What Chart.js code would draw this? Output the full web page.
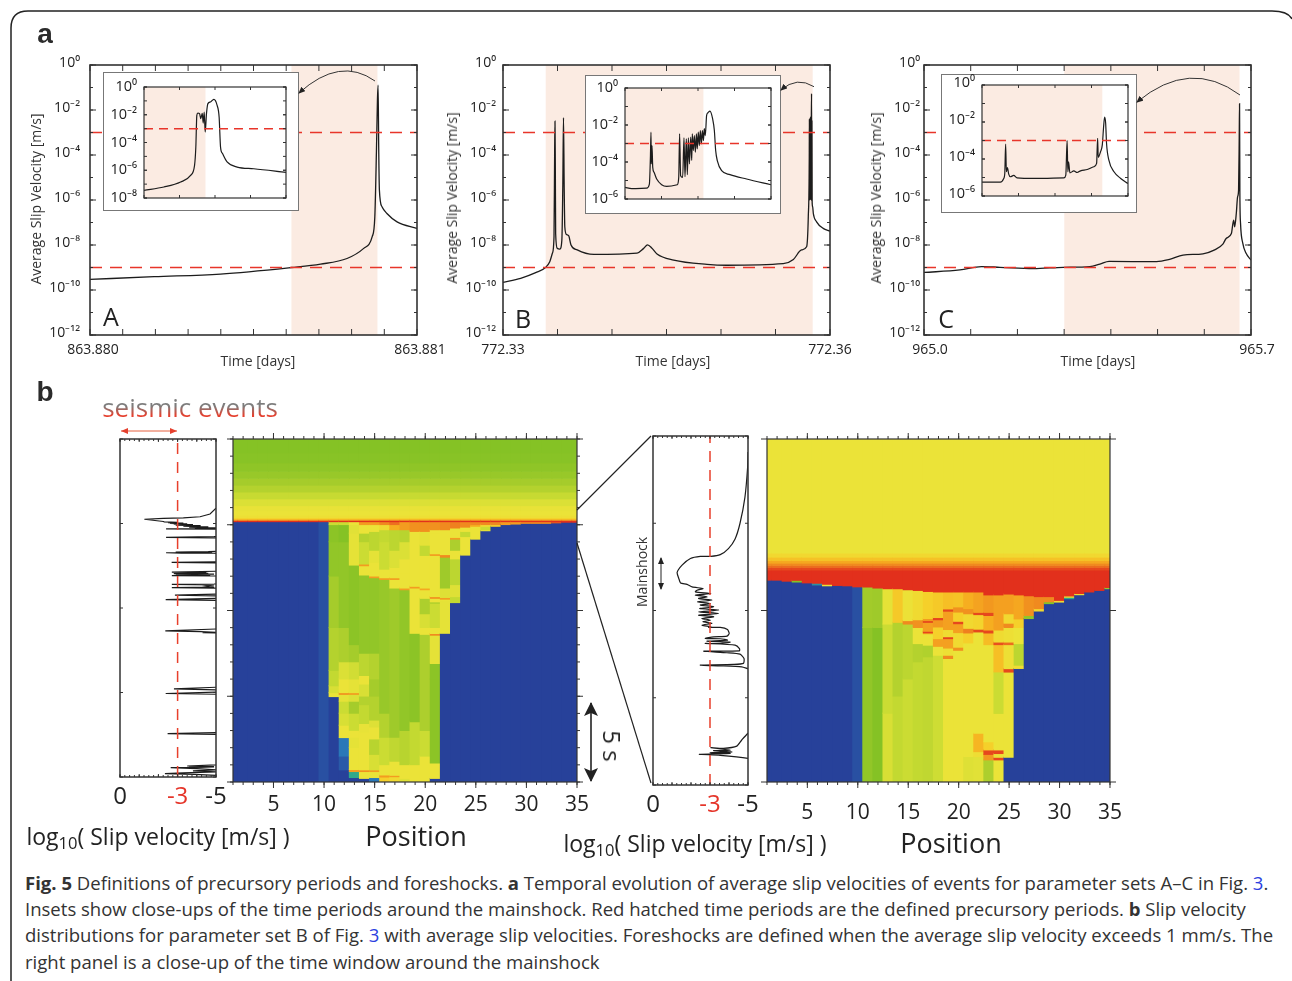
<!DOCTYPE html>
<html lang="en">
<head>
<meta charset="UTF-8">
<title>Fig. 5</title>
<script src="https://cdn.jsdelivr.net/npm/chart.js"></script>
<style>
  html, body { margin: 0; padding: 0; background: #fff; }
  body { width: 1292px; height: 981px; position: relative; overflow: hidden; font-family: "Open Sans", sans-serif; color: #2b2b2b; }
  canvas { position: absolute; }
  .txt { position: absolute; white-space: nowrap; transform: translate(-50%, -50%); line-height: 1; }
  .inset { position: absolute; background: #fff; border: 1.5px solid #777; box-sizing: border-box; }
  .cap { position: absolute; left: 25px; white-space: nowrap; font-size: 18.55px; line-height: 1; color: #333; }
  .cap a { color: #2c3fe0; }
  sub { font-size: 0.72em; vertical-align: -0.3em; line-height: 0; }
  .grad { background: linear-gradient(#7d7d7d 48%, #e5402e 70%); -webkit-background-clip: text; background-clip: text; color: transparent; padding: 3px 0; }
  svg { position: absolute; left: 0; top: 0; }
</style>
</head>
<body>
<script>
// ---- panel a, values are log10(slip velocity), time is % of the window shown
const threshHigh = 1e-3, threshLow = 1e-9;

const xLabelsA = ['863.880', '863.881'];
const timeA = [0,19.6,39.9,61.6,70.5,78.6,83.7,86.3,87.1,87.6,87.9,88.1,88.3,88.5,89.3,90.8,93.9,100];
const logVelA = [-9.53,-9.41,-9.29,-9,-8.85,-8.6,-8.15,-7.63,-6.75,-3.8,-1.57,-0.9,-3.8,-5.56,-6.3,-6.6,-6.97,-7.26];
const bandA = [61.6, 87.9];

const xLabelsB = ['772.33', '772.36'];
const timeB = [0,5.4,10,13,14.3,15.1,15.6,15.8,15.9,16,16.1,16.6,17.4,18,18.3,18.5,18.7,18.9,19.4,20.1,20.8,22.7,27.8,41,43,44.2,45.6,47.1,52.2,62.4,68.4,85.7,88.8,91.3,92.85,93.36,93.66,93.7,93.76,93.82,93.88,93.94,94,94.06,94.12,94.18,94.24,94.3,94.36,94.42,94.48,94.54,94.7,94.9,95.9,97.9,100];
const logVelB = [-9.66,-9.48,-9.23,-9,-8.74,-8.37,-7.63,-3.79,-2.5,-4.53,-7.49,-8.15,-8.18,-7.78,-5.27,-2.34,-5.27,-7.19,-7.53,-7.59,-8,-8.22,-8.42,-8.36,-8.15,-7.99,-8.15,-8.4,-8.67,-8.86,-8.9,-8.83,-8.64,-8.22,-8.08,-6.75,-4.08,-2.4,-6,-2.4,-6,-2.35,-5.9,-2.3,-5.9,-2.3,-6,-2.3,-1.27,-5.5,-2.5,-6.1,-6.3,-6.6,-6.97,-7.26,-7.38];
const bandB = [13.06, 94.7];

const xLabelsC = ['965.0', '965.7'];
const timeC = [0,11,17.6,23.2,33.4,42.6,50.7,53.8,56.6,71.1,75.1,79.2,85.3,88.9,91.4,92.4,94,94.7,95,95.5,95.9,96.2,96.4,96.5,96.6,96.8,97.5,98.5,100];
const logVelC = [-9.22,-9.11,-8.96,-8.99,-9.05,-8.99,-8.96,-8.85,-8.73,-8.74,-8.64,-8.45,-8.39,-8.22,-7.96,-7.71,-7.49,-6.89,-7.19,-6.6,-5.86,-5.56,-3.2,-1.72,-5.71,-7.04,-7.93,-8.37,-8.67];
const bandC = [42.9, 96.5];

// insets
const insetTimeA = [0,14,25.8,32.8,35.6,36.5,37.2,37.9,39.1,40,41,41.7,42.4,43.1,44,45,46.8,49.2,51.5,52.9,53.9,55.3,58.5,65.6,77.3,100];
const insetVelA = [-7.45,-7.21,-6.85,-6.37,-5.65,-4.33,-2.04,-1.875,-1.92,-2.28,-1.9,-2.6,-1.8,-3.25,-1.92,-1.2,-1.08,-0.89,-1.32,-2.16,-4.33,-4.8,-5.4,-5.77,-5.89,-6.15];
const insetBandA = [0, 43.3];

const insetTimeB = [0,4.6,14.8,16.7,17.4,17.8,18,18.5,19,19.9,21.7,25.1,28.5,35.8,36.8,37.4,38.1,39.5,40.4,41.1,42,42.7,43.4,44.1,45,45.7,46.1,46.8,47.5,48.2,48.9,49.5,50.2,50.9,51.6,52.3,53,53.7,54.3,55,55.9,56.8,58.2,60,61.2,62.1,63.2,66.2,71.9,83.3,100];
const insetVelB = [-5.37,-5.44,-5.41,-5.19,-3.74,-2.39,-4.1,-3.11,-4.29,-4.56,-4.92,-5.23,-5.32,-5.23,-4.83,-2.48,-4.74,-4.83,-2.69,-4.79,-2.75,-4.68,-2.69,-4.1,-2.66,-3.92,-2.48,-3.38,-2.57,-3.47,-2.48,-3.29,-2.39,-3.11,-2.3,-3.02,-2.3,-2.84,-2.2,-2.57,-1.48,-1.34,-1.25,-1.66,-2.3,-3.38,-3.92,-4.47,-4.68,-4.92,-5.23];
const insetBandB = [0, 53.7];

const insetTimeC = [0,12.6,14.9,15.6,16.2,16.7,17.4,18.3,19.4,21.7,24,35.5,56.1,57.4,58.3,58.8,59.3,60.2,62.9,65.2,67.5,72.1,76.6,78.5,79.2,79.6,81.2,82.4,83.3,84,84.7,85.3,86.9,90.4,95,100];
const insetVelC = [-5.25,-5.25,-5.05,-4.78,-3.19,-4.69,-4.46,-4.82,-4.96,-4.89,-5.02,-5.05,-5.02,-4.87,-3.01,-4.69,-4.15,-4.75,-4.64,-4.73,-4.64,-4.57,-4.42,-4.24,-2.88,-3.91,-3.6,-3.24,-2.25,-1.74,-2.07,-3.15,-4.06,-4.69,-5.05,-5.33];
const insetBandC = [0, 82.4];

// ---- panel b, average slip velocity traces (t in s, log10 v)
const leftTraceT = [15.9,15.56,15.4,15.33,15.3,15.25,15.12,15.1,15.07,15.05,15.02,15,14.98,14.96,14.93,14.9,14.87,14.84,14.8,14.78,14.74,14.72,14.7,14.68,14.66,14.6,14.3,14.22,14.18,14.15,14.1,13.4,13.33,13.31,13.29,13.27,13.25,13.24,13.2,12.75,12.7,12.66,12.2,12.12,12.09,12.07,12.05,12.03,12,11.98,11.95,11.92,11.88,11.55,11.42,11.4,11.36,11.3,11.24,11.2,11.17,10.85,10.76,10.7,10.6,10.5,10.44,8.8,8.65,8.6,8.56,8.54,8.5,5.35,5.22,5.16,5.1,5.05,4.94,4.88,2.65,2.57,2.5,0.9,0.72,0.65,0.62,0.6,0.58,0.56,0.5,0.42,0.36,0.3,0.24,0.2,0.16,0.1,0.05];
const leftTraceV = [-5,-4.69,-4.17,-3.3,-2.26,-1.27,-2.26,-2.3,-3,-2.5,-3.3,-2.6,-3.5,-2.8,-3.8,-2.9,-4.2,-3.3,-4.6,-3.6,-5,-3.9,-5.2,-2.4,-5.5,-6,-6,-4.9,-2.4,-4.8,-6,-6,-4.6,-2.9,-4.8,-2.4,-3.2,-4.9,-6,-6,-2.69,-6,-6,-2.7,-4.5,-2.8,-4.6,-2.8,-4.9,-2.9,-4.7,-2.7,-6,-6,-4.9,-2.7,-4.9,-4.5,-4.9,-2.7,-6,-6,-2.86,-6,-6,-2.38,-6,-6,-2.36,-4.2,-5,-4.3,-6,-6,-2.81,-5,-6,-6,-2.38,-6,-6,-2.48,-6,-6,-5,-3.5,-4.9,-3.6,-4.9,-2.64,-4,-5,-3.8,-5,-3.3,-2.34,-3.9,-5,-6];

const rightTraceT = [1.908,1.82,1.65,1.5,1.41,1.355,1.32,1.31,1.31,1.298,1.26,1.218,1.183,1.158,1.15,1.135,1.126,1.116,1.107,1.097,1.088,1.078,1.069,1.059,1.05,1.04,1.031,1.021,1.011,1.002,0.992,0.983,0.973,0.964,0.954,0.945,0.935,0.926,0.916,0.906,0.903,0.903,0.891,0.868,0.853,0.849,0.84,0.838,0.83,0.824,0.819,0.811,0.811,0.802,0.782,0.769,0.767,0.758,0.75,0.725,0.697,0.691,0.687,0.683,0.677,0.666,0.658,0.31,0.296,0.258,0.223,0.21,0.214,0.2,0.197,0.189,0.185,0.181,0.176,0.17,0.153,0.14];
const rightTraceV = [-5,-4.98,-4.84,-4.58,-4.32,-3.97,-3.54,-3.05,-2.49,-1.97,-1.53,-1.27,-1.36,-1.45,-1.79,-2.06,-2.63,-2.32,-2.23,-3.05,-2.23,-2.84,-2.4,-3.1,-2.35,-3.01,-2.49,-3.19,-2.46,-3.45,-2.4,-3.45,-2.4,-3.19,-2.58,-3.01,-2.63,-3.1,-2.58,-3.05,-2.93,-3.54,-3.92,-4.01,-3.89,-3.19,-2.75,-3.54,-3.92,-2.84,-4.06,-3.54,-2.75,-4.32,-4.55,-4.55,-2.67,-3.89,-4.58,-4.79,-4.76,-4.23,-2.49,-3.54,-4.67,-5,-5.28,-5.3,-5,-4.67,-4.41,-3.71,-3.05,-4.06,-3.19,-4.15,-3.01,-4.06,-2.44,-3.54,-5,-5.3];

// ---- heat maps: [position, t0, v0, t1, v1, ...], each run lasts until the next start
const leftRuns = [
  [1,0,-13],[2,0,-13],[3,0,-13],[4,0,-13],[5,0,-13],[6,0,-13],[7,0,-13],[8,0,-13],[9,0,-13],[10,0,-12.4],
  [11,0,-13,4.97,-6,5.2,-6.6,5.6,-7.2,6.5,-7.6,9,-8,12,-8.6,14,-8.8,15,-7],
  [12,0,-13,0.7,-12,1.5,-11.5,2.58,-6,3.3,-6.6,4,-7,4.7,-6.2,5.1,-3.2,5.2,-6,6,-6.5,7,-7.8,9,-8.6,14,-9,15,-7],
  [13,0,-13,0.25,-10.5,0.6,-3.5,0.72,-6,2,-6.2,2.6,-6,3,-7,4,-8,4.7,-6.5,5.1,-3.5,5.2,-6.2,6,-6.8,7,-8,8,-8.8,12.64,-6.2,14.5,-6.3,15,-6],
  [14,0,-13,0.2,-6,0.6,-3.2,0.7,-6,2.9,-6.1,3.4,-7.2,4.5,-7.6,5,-6.6,5.7,-6,6.2,-7.4,7.5,-8.6,12.06,-6,12.6,-3.5,12.7,-7,14,-7.6,14.5,-6,15,-3.5],
  [15,0,-11.5,0.25,-6,0.6,-3.5,0.7,-6.6,1.6,-7.5,2.5,-6,3.2,-6.4,3.6,-7.6,5,-8,6,-7.6,7.5,-8.6,11.9,-3.5,12,-6,12.8,-6.2,13.5,-7.4,14.6,-6,15,-3.5],
  [16,0,-5,0.28,-3.5,0.4,-6,1,-7,2.6,-7.6,4,-8.4,11.8,-3.5,11.9,-6,12.4,-7,14,-7.2,14.7,-5.6,15,-3],
  [17,0,-5.5,0.3,-3.5,0.38,-6,1.2,-7.3,2.6,-8.2,11.3,-6,11.8,-3.5,11.9,-6,12.5,-6.5,13.5,-7.4,14.7,-4,15,-2.5],
  [18,0,-6.4,0.2,-6,1,-7.5,3,-8.6,11.2,-3.5,11.3,-6,12.2,-6,13,-6.5,14,-7.5,14.7,-3.5],
  [19,0,-6,1,-7.2,3.5,-8.8,8.66,-6,11.3,-3.5,11.4,-6,14.6,-3.2],
  [20,0,-6,1.5,-7,3,-7.8,8.6,-6,9,-6.6,9.8,-7.8,10.7,-6,11.2,-3.8,11.3,-6,13.2,-7.2,13.8,-6.2,14.6,-3.2],
  [21,0,-13,0.2,-6,1.1,-8.8,6,-8.8,6.9,-6.2,8.55,-3,8.65,-6,9,-7,10.4,-7.6,10.5,-6,10.7,-3.2,10.8,-6,13.2,-3.5,13.3,-6,14.5,-6,14.7,-3.2],
  [22,0,-13,8.66,-6.2,10.6,-6,10.65,-3.5,10.75,-6.4,11.3,-8.2,13.1,-3,13.25,-6,14.7,-3],
  [23,0,-13,10.45,-7.2,10.8,-6.4,11.5,-7.4,13,-6,13.5,-7.8,14.15,-3.5,14.25,-6,14.8,-2.8],
  [24,0,-13,13.22,-6,14.3,-7.2,14.6,-6,14.85,-3],
  [25,0,-13,14.15,-6,14.9,-4,15,-3],
  [26,0,-13,14.64,-6,14.7,-7,14.9,-5.5,15,-3],
  [27,0,-13,14.9,-5,15,-3],
  [28,0,-13,15,-3.5],[29,0,-13,15.03,-3.5],[30,0,-13,15.07,-3],[31,0,-13,15.07,-3],[32,0,-13,15.07,-3],
  [33,0,-13,15.1,-2],[34,0,-13,15.14,-1],[35,0,-13,15.14,-1]
];
const leftTopT = [15.17,15.25,15.32,15.4,15.55,15.8,16.1,16.5,16.9,17.3,17.7,18.1,18.6,19.2];
const leftTopV = [-1,-3.4,-5,-5.8,-6,-6.1,-6.5,-7.1,-7.6,-8,-8.4,-8.7,-8.9,-9];

const rightRuns = [
  [1,0,-13,1.176,-1],[2,0,-13,1.176,-1],[3,0,-13,1.17,-1],[4,0,-13,1.165,-9,1.175,-1],[5,0,-13,1.16,-1],
  [6,0,-13,1.148,-11,1.158,-1],[7,0,-13,1.143,-6,1.152,-1],[8,0,-13,1.145,-1],[9,0,-13,1.143,-1],[10,0,-12.4,1.137,-1],
  [11,0,-8.6,0.9,-8.1,1.136,-1],
  [12,0,-9,0.9,-8.2,1.13,-1],
  [13,0,-6.6,0.4,-7,0.92,-6.2,1.126,-1],
  [14,0,-7.2,0.5,-7.6,0.93,-4.8,1.126,-1],
  [15,0,-7,0.6,-7.4,0.92,-3,0.94,-5.9,1.12,-1],
  [16,0,-7.2,0.7,-7.6,0.806,-6,0.9,-3.2,0.945,-5.5,1.116,-1],
  [17,0,-7.3,0.729,-7.7,0.797,-6,0.864,-3.2,0.87,-1.5,0.878,-3.6,0.93,-1.5,0.94,-3.4,0.952,-5,1.11,-1],
  [18,0,-6.9,0.738,-6,0.79,-3.6,0.835,-5,0.903,-3.4,0.945,-1.5,0.958,-4.8,1.107,-1],
  [19,0,-6,0.719,-3,0.738,-5.8,0.78,-3.6,0.835,-1.5,0.846,-5.6,0.888,-3.6,0.995,-1.6,1.008,-4.5,1.107,-1],
  [20,0,-6,0.767,-3.2,0.785,-5.5,0.87,-3.6,0.922,-1.6,0.936,-5,0.99,-3.2,1.02,-4.6,1.107,-1],
  [21,0,-6.4,0.147,-6,0.81,-5,0.868,-2.8,0.895,-5.4,0.98,-3.2,1.01,-4,1.107,-1],
  [22,0,-6.3,0.147,-5.7,0.176,-4.2,0.283,-6,0.874,-1.6,0.89,-5.2,0.975,-1.6,0.988,-3.7,1.107,-1],
  [23,0,-7.8,0.128,-3.4,0.16,-1.6,0.186,-5,0.234,-6,0.8,-4.4,0.868,-1.6,0.885,-4,0.97,-1.6,0.988,-3.4,1.09,-1],
  [24,0,-6,0.128,-1.6,0.143,-5.8,0.165,-1.6,0.186,-6,0.399,-7,0.641,-4.5,0.8,-1.8,0.815,-5.6,0.885,-3.6,1.09,-1],
  [25,0,-13,0.143,-6,0.64,-1.6,0.66,-5.8,0.8,-2.4,0.815,-5.8,0.9,-3,0.925,-5.4,0.98,-3.6,1.095,-1],
  [26,0,-13,0.661,-5.7,0.68,-7.4,0.806,-6,0.9,-5,0.95,-3.8,1.09,-1],
  [27,0,-13,0.952,-8.6,0.97,-3.2,1.085,-1],
  [28,0,-13,0.996,-5.4,1.01,-3,1.08,-1],
  [29,0,-13,1.039,-9,1.05,-3,1.08,-1],
  [30,0,-13,1.048,-5.6,1.058,-1],
  [31,0,-13,1.068,-10.5,1.076,-5.5,1.084,-1],
  [32,0,-13,1.091,-5.5,1.098,-1],
  [33,0,-13,1.107,-1],[34,0,-13,1.116,-1],[35,0,-13,1.126,-8.5,1.133,-1]
];
const rightTopT = [1.235,1.25,1.262,1.275,1.29,1.31,1.335];
const rightTopV = [-1.6,-2.4,-3,-3.8,-4.6,-5.4,-6];

const positionTicks = [5,10,15,20,25,30,35];
const traceTicks = [0,-3,-5];
const supers = {'0':'\u2070','2':'\u00b2','4':'\u2074','6':'\u2076','8':'\u2078','1':'\u00b9','-':'\u207b'};

// colours of the slip velocity map
const colorStops = [[-13,[39,65,154]],[-12,[42,90,168]],[-11.5,[42,120,184]],[-10.5,[47,168,138]],[-9.2,[127,192,36]],[-8,[165,204,43]],[-7,[203,220,51]],[-6,[235,227,56]],[-5,[245,208,42]],[-4,[246,174,32]],[-3,[240,138,31]],[-2,[233,88,30]],[-1,[226,48,28]]];
function heatColor(v) {
  for (let i = 1; i < colorStops.length; i++) {
    if (v <= colorStops[i][0]) {
      const a = colorStops[i-1], b = colorStops[i], k = (v - a[0]) / (b[0] - a[0]);
      return 'rgb(' + a[1].map((c, j) => Math.round(c + (b[1][j] - c) * k)).join(',') + ')';
    }
  }
  return 'rgb(226,48,28)';
}

function range(from, to, step) {
  const out = [];
  for (let v = from; v <= to + 1e-9; v += step) out.push(Math.round(v * 1000) / 1000);
  return out;
}
function pairs(xs, ys) { return xs.map((x, i) => ({x: x, y: ys[i]})); }
function logPairs(xs, ys) { return xs.map((x, i) => ({x: x, y: Math.pow(10, ys[i])})); }
function setTicks(vals) { return s => { s.ticks = vals.map(v => ({value: v})); }; }
const noGrid = {display: false, drawTicks: false};

// shaded period behind the curves
Chart.register({
  id: 'band',
  beforeDatasetsDraw(chart, args, opts) {
    if (!opts.from && opts.from !== 0) return;
    const {top, bottom} = chart.chartArea, x = chart.scales.x, ctx = chart.ctx;
    const a = x.getPixelForValue(opts.from), b = x.getPixelForValue(opts.to);
    ctx.save();
    ctx.fillStyle = '#fbebe2';
    ctx.fillRect(a, top, b - a, bottom - top);
    ctx.restore();
  }
});
// box and tick marks on all four sides
Chart.register({
  id: 'frame',
  afterDraw(chart, args, o) {
    const {left, right, top, bottom} = chart.chartArea, ctx = chart.ctx;
    const dir = o.out ? -1 : 1, x = chart.scales.x, y = chart.scales.y;
    ctx.save();
    ctx.strokeStyle = o.color || '#333';
    ctx.lineWidth = o.tickWidth || 1;
    ctx.beginPath();
    const mark = (vals, len) => {
      (vals.x || []).forEach(v => {
        const p = x.getPixelForValue(v);
        ctx.moveTo(p, bottom); ctx.lineTo(p, bottom - dir * len);
        ctx.moveTo(p, top); ctx.lineTo(p, top + dir * len);
      });
      (vals.y || []).forEach(v => {
        const p = y.getPixelForValue(v);
        ctx.moveTo(left, p); ctx.lineTo(left + dir * len, p);
        ctx.moveTo(right, p); ctx.lineTo(right - dir * len, p);
      });
    };
    mark({x: o.xMinor, y: o.yMinor}, o.minLen || 3);
    mark({x: o.xMajor, y: o.yMajor}, o.majLen || 6);
    ctx.stroke();
    ctx.lineWidth = o.width || 1.5;
    ctx.strokeRect(left, top, right - left, bottom - top);
    ctx.restore();
  }
});

function place(box, pad, config) {
  const c = document.createElement('canvas');
  c.width = box.w + pad.l + pad.r;
  c.height = box.h + pad.t + pad.b;
  c.style.left = (box.l - pad.l) + 'px';
  c.style.top = (box.t - pad.t) + 'px';
  if (pad.blur) c.style.filter = 'blur(' + pad.blur + 'px)';
  document.body.appendChild(c);
  const o = config.options;
  o.responsive = false;
  o.animation = false;
  o.layout = {padding: {top: pad.t, right: pad.r, left: 0, bottom: 0}};
  o.plugins = Object.assign({legend: {display: false}, tooltip: {enabled: false}}, o.plugins);
  o.scales.x.afterFit = s => { s.height = pad.b; };
  o.scales.y.afterFit = s => { s.width = pad.l; };
  return new Chart(c.getContext('2d'), config);
}

function logPanel(box, pad, d) {
  const bottomExp = d.exps[d.exps.length - 1];
  const decades = range(bottomExp, 0, 1).map(e => Math.pow(10, e));
  const red = {borderColor: '#e8352a', borderWidth: d.redWidth || 1.5, borderDash: d.dash || [12, 8], pointRadius: 0, showLine: true};
  const datasets = [];
  d.thresh.forEach(v => datasets.push(Object.assign({data: [{x: 0, y: v}, {x: 100, y: v}]}, red)));
  datasets.push({data: logPairs(d.t, d.v), borderColor: '#1c1c1c', borderWidth: d.lineWidth || 1.3, borderJoinStyle: 'miter', pointRadius: 0, showLine: true, cubicInterpolationMode: 'monotone'});
  return place(box, pad, {
    type: 'scatter',
    data: {datasets: datasets},
    options: {
      plugins: {
        band: {from: d.band[0], to: d.band[1]},
        frame: {xMajor: d.xMajor, yMajor: d.exps.map(e => Math.pow(10, e)), yMinor: decades, majLen: d.majLen || 6, minLen: 3, width: d.frameWidth || 1.6}
      },
      scales: {
        x: {
          type: 'linear', min: 0, max: 100,
          afterBuildTicks: setTicks(d.labels ? [0, 100] : []),
          grid: noGrid,
          border: {display: false},
          ticks: {
            display: !!d.labels, autoSkip: false, maxRotation: 0, padding: 7, labelOffset: d.labelOffset || 0,
            color: '#222', font: {family: '"Open Sans"', size: 14},
            callback: v => d.labels ? (v === 0 ? d.labels[0] : d.labels[1]) : ''
          }
        },
        y: {
          type: 'logarithmic', min: Math.pow(10, bottomExp), max: 1,
          afterBuildTicks: setTicks(d.exps.map(e => Math.pow(10, e))),
          grid: noGrid,
          border: {display: false},
          ticks: {
            autoSkip: false, padding: d.yPad || 10, labelOffset: d.yShift === undefined ? -2 : d.yShift, color: '#222', font: {family: '"Open Sans"', size: d.ySize || 14},
            callback: v => '10' + String(Math.round(Math.log10(v))).split('').map(ch => supers[ch]).join('')
          }
        }
      }
    }
  });
}

function addText(html, x, y, size, extra) {
  const d = document.createElement('div');
  d.className = 'txt';
  d.innerHTML = html;
  d.style.left = x + 'px';
  d.style.top = y + 'px';
  d.style.fontSize = size + 'px';
  if (extra) Object.assign(d.style, extra);
  document.body.appendChild(d);
  return d;
}
function addInset(l, t, w, h) {
  const d = document.createElement('div');
  d.className = 'inset';
  Object.assign(d.style, {left: l + 'px', top: t + 'px', width: w + 'px', height: h + 'px'});
  document.body.appendChild(d);
}

// the y scale reserves half a label plus its padding above and below the plot
const mainPad = {l: 70, r: 36, t: 30, b: 40};
const mainExps = [0,-2,-4,-6,-8,-10,-12];
const insetPad = {l: 40, r: 6, t: 26, b: 26};

// panel a
logPanel({l: 89.5, t: 65, w: 327, h: 270}, mainPad, {t: timeA, v: logVelA, band: bandA, labels: xLabelsA, exps: mainExps, thresh: [threshHigh, threshLow], xMajor: range(0, 100, 10), labelOffset: 3, yPad: 10});
logPanel({l: 502.5, t: 65, w: 327.5, h: 270}, mainPad, {t: timeB, v: logVelB, band: bandB, labels: xLabelsB, exps: mainExps, thresh: [threshHigh, threshLow], xMajor: range(0, 100, 100 / 6), yPad: 7});
logPanel({l: 924, t: 65, w: 327.3, h: 270}, mainPad, {t: timeC, v: logVelC, band: bandC, labels: xLabelsC, exps: mainExps, thresh: [threshHigh, threshLow], xMajor: range(0, 100, 100 / 7), labelOffset: 6, yPad: 4});

const insetOpts = {xMajor: range(0, 100, 25), majLen: 3, frameWidth: 1.2, yPad: 7, ySize: 14.5, dash: [9, 6], lineWidth: 1.2};
addInset(102.5, 72, 196, 138.5);
logPanel({l: 143.5, t: 87, w: 142, h: 111}, insetPad, Object.assign({t: insetTimeA, v: insetVelA, band: insetBandA, exps: [0,-2,-4,-6,-8], thresh: [threshHigh], yShift: 0}, insetOpts));
addInset(584.5, 74.5, 196, 139);
logPanel({l: 625, t: 87.5, w: 146, h: 111}, insetPad, Object.assign({t: insetTimeB, v: insetVelB, band: insetBandB, exps: [0,-2,-4,-6], thresh: [threshHigh], yShift: 0}, insetOpts));
addInset(941, 74, 196, 138.5);
logPanel({l: 981.5, t: 85, w: 146, h: 111}, insetPad, Object.assign({t: insetTimeC, v: insetVelC, band: insetBandC, exps: [0,-2,-4,-6], thresh: [threshHigh], yShift: -2}, insetOpts));

// panel b traces
function tracePanel(box, d) {
  place(box, {l: 30, r: 30, t: 6, b: 45}, {
    type: 'scatter',
    data: {datasets: [
      {data: [{x: -3, y: 0}, {x: -3, y: d.top}], borderColor: '#e8402c', borderWidth: 1.5, borderDash: [11, 8], pointRadius: 0, showLine: true},
      {data: pairs(d.v, d.t), borderColor: '#1c1c1c', borderWidth: 1.2, pointRadius: 0, showLine: true, tension: d.tension || 0}
    ]},
    options: {
      plugins: {frame: {xMinor: range(-5, 0, 0.25), xMajor: range(-5, 0, 1), yMajor: d.yMajor, minLen: 2, majLen: 3, width: 1.5}},
      scales: {
        x: {
          type: 'linear', min: -5, max: 0, reverse: true,
          afterBuildTicks: setTicks(traceTicks),
          grid: noGrid, border: {display: false},
          ticks: {
            autoSkip: false, maxRotation: 0, padding: d.pad, font: {family: '"Open Sans"', size: 24},
            color: c => c.tick && c.tick.value === -3 ? '#e5352a' : '#222',
            callback: v => String(v)
          }
        },
        y: {
          type: 'linear', min: 0, max: d.top,
          afterBuildTicks: setTicks([]),
          grid: noGrid, border: {display: false}, ticks: {display: false}
        }
      }
    }
  });
}
tracePanel({l: 120, t: 439, w: 96, h: 338}, {t: leftTraceT, v: leftTraceV, top: 20, yMajor: range(0, 20, 5), pad: 6});
tracePanel({l: 652.5, t: 436, w: 95.5, h: 349}, {t: rightTraceT, v: rightTraceV, top: 2, yMajor: range(0, 2, 0.5), pad: 6, tension: 0.2});

// heat maps, each cell is one floating bar
function heatCells(runs, topT, topV, end, seam) {
  const cells = [];
  runs.forEach(r => {
    for (let i = 1; i < r.length; i += 2) {
      const next = i + 2 < r.length ? r[i + 2] : topT[0];
      cells.push({x: r[0], y: [r[i], next + seam], v: r[i + 1]});
    }
    topT.forEach((t, i) => {
      const next = i + 1 < topT.length ? topT[i + 1] : end;
      cells.push({x: r[0], y: [t, next], v: topV[i]});
    });
  });
  return cells;
}
function heatPanel(box, cells, top, yMajor, yMinor, labelPad) {
  place(box, {l: 30, r: 30, t: 10, b: 45, blur: 0.5}, {
    type: 'bar',
    data: {datasets: [{data: cells, backgroundColor: cells.map(c => heatColor(c.v)), barThickness: 10.5, borderWidth: 0}]},
    options: {
      plugins: {frame: {out: true, xMinor: range(1, 35, 1), xMajor: positionTicks, yMajor: yMajor, yMinor: yMinor, minLen: 3, majLen: 6, width: 1.2, color: '#333'}},
      scales: {
        x: {
          type: 'linear', min: 1, max: 35, offset: false,
          afterBuildTicks: setTicks(positionTicks),
          grid: noGrid, border: {display: false},
          ticks: {autoSkip: false, maxRotation: 0, padding: labelPad, color: '#222', font: {family: '"Open Sans"', size: 21}}
        },
        y: {
          type: 'linear', min: 0, max: top,
          afterBuildTicks: setTicks([]),
          grid: noGrid, border: {display: false}, ticks: {display: false}
        }
      }
    }
  });
}
heatPanel({l: 232.7, t: 438.7, w: 344, h: 343.3}, heatCells(leftRuns, leftTopT, leftTopV, 20, 0.02), 20, range(0, 20, 5), range(0, 20, 1), 10);
heatPanel({l: 767.3, t: 438.7, w: 343.7, h: 343.3}, heatCells(rightRuns, rightTopT, rightTopV, 2, 0.002), 2, [0, 1, 2], [], 18);

// text
addText('<b>a</b>', 45, 34, 28, {fontFamily: '"Liberation Sans"'});
addText('<b>b</b>', 45, 392, 28, {fontFamily: '"Liberation Sans"'});
addText('Average Slip Velocity [m/s]', 36, 199, 14, {transform: 'translate(-50%,-50%) rotate(-90deg)', color: '#333'});
addText('Average Slip Velocity [m/s]', 452, 198, 14, {transform: 'translate(-50%,-50%) rotate(-90deg)', color: '#333'});
addText('Average Slip Velocity [m/s]', 876, 198, 14, {transform: 'translate(-50%,-50%) rotate(-90deg)', color: '#333'});
addText('Time [days]', 258, 361, 14, {color: '#333'});
addText('Time [days]', 673, 361, 14, {color: '#333'});
addText('Time [days]', 1098, 361, 14, {color: '#333'});
addText('A', 111, 316, 25, {color: '#222'});
addText('B', 523, 318, 25, {color: '#222'});
addText('C', 946, 318, 25, {color: '#222'});
addText('<span class="grad">seismic events</span>', 190, 407, 26);
addText('log<sub>10</sub>( Slip velocity [m/s] )', 158, 836, 23, {color: '#222'});
addText('log<sub>10</sub>( Slip velocity [m/s] )', 695, 843, 23, {color: '#222'});
addText('Position', 416, 835, 27, {color: '#222'});
addText('Position', 951, 842, 27, {color: '#222'});
addText('5 s', 612, 746, 24, {transform: 'translate(-50%,-50%) rotate(90deg)', color: '#222'});
addText('Mainshock', 641.5, 572, 14, {transform: 'translate(-50%,-50%) rotate(-90deg)', color: '#333'});

const captionLines = [
  ['<b>Fig. 5</b> Definitions of precursory periods and foreshocks. <b>a</b> Temporal evolution of average slip velocities of events for parameter sets A–C in Fig. <a>3</a>.', 874],
  ['Insets show close-ups of the time periods around the mainshock. Red hatched time periods are the defined precursory periods. <b>b</b> Slip velocity', 900],
  ['distributions for parameter set B of Fig. <a>3</a> with average slip velocities. Foreshocks are defined when the average slip velocity exceeds 1 mm/s. The', 926],
  ['right panel is a close-up of the time window around the mainshock', 953]
];
captionLines.forEach(l => {
  const d = document.createElement('div');
  d.className = 'cap';
  d.innerHTML = l[0];
  d.style.top = l[1] + 'px';
  document.body.appendChild(d);
});

// arrows, connectors and the page border
const ns = document.createElementNS('http://www.w3.org/2000/svg', 'svg');
document.body.appendChild(ns);
ns.setAttribute('width', 1292);
ns.setAttribute('height', 981);
ns.innerHTML = `
<defs>
  <marker id="ah" markerWidth="8" markerHeight="8" refX="6" refY="3" orient="auto-start-reverse" markerUnits="userSpaceOnUse"><path d="M0 0L7 3L0 6Z" fill="#222"/></marker>
  <marker id="big" markerWidth="20" markerHeight="20" refX="13" refY="7" orient="auto-start-reverse" markerUnits="userSpaceOnUse"><path d="M0 0L14 7L0 14L3 7Z" fill="#222"/></marker>
  <marker id="redh" markerWidth="9" markerHeight="8" refX="7" refY="3" orient="auto-start-reverse" markerUnits="userSpaceOnUse"><path d="M0 0L7 3L0 6Z" fill="#e5402e"/></marker>
</defs>
<path d="M375 81 Q340 56 299 93" fill="none" stroke="#333" stroke-width="1" marker-end="url(#ah)"/>
<path d="M814 86.7 Q797 76 781 90" fill="none" stroke="#333" stroke-width="1" marker-end="url(#ah)"/>
<path d="M1240 95 Q1190 58 1137 102" fill="none" stroke="#333" stroke-width="1" marker-end="url(#ah)"/>
<path d="M121 431 L177 431" stroke="#e5603e" stroke-width="1" marker-start="url(#redh)" marker-end="url(#redh)"/>
<path d="M591 703 L591 781" stroke="#222" stroke-width="1.6" marker-start="url(#big)" marker-end="url(#big)"/>
<path d="M661 558 L661 589" stroke="#222" stroke-width="1" marker-start="url(#ah)" marker-end="url(#ah)"/>
<path d="M577 510 L651 436" stroke="#222" stroke-width="1.2"/>
<path d="M577 543 L651 783" stroke="#222" stroke-width="1.2"/>
<path d="M11 981 L11 28 Q11 11 28 11 L1272 11 Q1288 11 1292 19" fill="none" stroke="#222" stroke-width="1.5"/>`;
</script>
</body>
</html>
